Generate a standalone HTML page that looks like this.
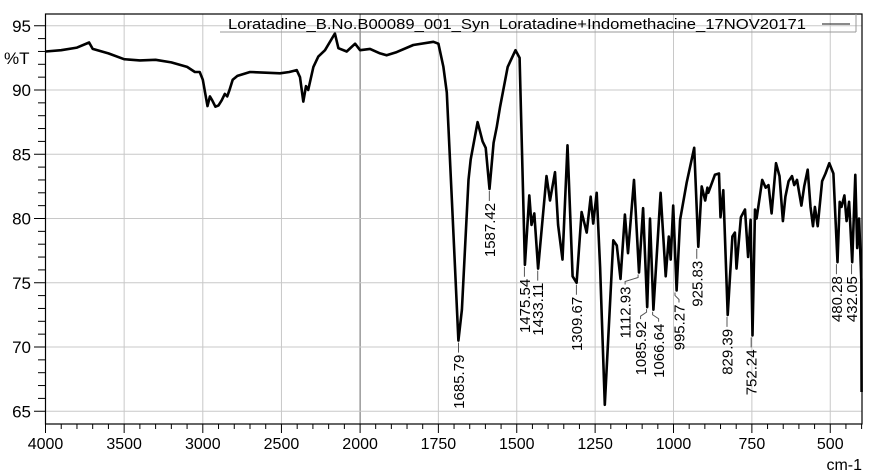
<!DOCTYPE html>
<html><head><meta charset="utf-8"><style>
html,body{margin:0;padding:0;background:#fff}
svg{display:block;font-family:"Liberation Sans",Arial,sans-serif}
</style></head><body>
<svg id="chart" width="872" height="473" viewBox="0 0 872 473" xmlns="http://www.w3.org/2000/svg">
<g id="grid"></g>
<g id="axes"></g>
<g id="series"></g>
<g id="labels"></g>
<g id="legend">
  <line x1="220" y1="32" x2="856" y2="32" stroke="#999" stroke-width="1"/>
  <line x1="856" y1="14" x2="856" y2="32" stroke="#999" stroke-width="1"/>
  <text x="228" y="29" font-size="15" textLength="578" lengthAdjust="spacingAndGlyphs">Loratadine_B.No.B00089_001_Syn&#160;&#160;Loratadine+Indomethacine_17NOV20171</text>
  <line x1="822" y1="24" x2="850" y2="24" stroke="#444" stroke-width="1.2"/>
</g>
</svg>
<script>
const wavenumbers = [4000,3900,3800,3723,3700,3600,3500,3400,3300,3200,3100,3050,3020,3000,2970,2955,2940,2920,2900,2880,2860,2845,2830,2810,2780,2700,2600,2509,2450,2403,2382,2361,2344,2330,2297,2266,2223,2160,2138,2085,2032,2000,1968,1936,1915,1883,1830,1766,1750,1734,1723,1707,1686,1675,1654,1647,1625,1609,1599,1587,1574,1564,1553,1529,1504,1491,1474,1460,1453,1444,1432,1405,1394,1378,1368,1354,1338,1322,1309,1293,1277,1264,1256,1245,1234,1219,1192,1181,1169,1155,1145,1126,1110,1097,1084,1075,1064,1041,1025,1015,1009,1001,990,979,958,934,921,910,899,892,889,868,855,850,841,827,812,804,799,785,772,762,754,748,740,735,717,706,697,687,673,662,651,643,633,622,615,606,592,583,572,563,555,549,540,526,515,503,490,477,470,464,455,448,440,430,420,414,408,401,400];
const transmittance = [93.0,93.1,93.3,93.7,93.2,92.85,92.4,92.3,92.35,92.15,91.8,91.4,91.4,90.8,88.75,89.5,89.2,88.7,88.8,89.2,89.7,89.5,90.0,90.8,91.1,91.4,91.35,91.3,91.4,91.55,91.0,89.1,90.3,90.0,91.8,92.6,93.1,94.4,93.25,93.0,93.6,93.1,93.2,92.85,92.7,92.95,93.5,93.75,93.6,91.8,89.8,81.4,70.5,72.9,83.0,84.6,87.5,86.0,85.5,82.3,85.9,87.1,88.7,91.8,93.1,92.5,76.4,81.8,79.5,80.4,76.1,83.3,81.4,83.6,79.5,76.8,85.7,75.5,75.0,80.5,78.9,81.7,79.6,82.0,76.2,65.5,78.3,77.9,75.3,80.3,77.3,83.0,75.8,80.8,73.1,80.0,72.9,82.0,75.5,78.6,76.8,81.0,74.4,79.9,82.8,85.5,77.8,82.5,81.4,82.4,82.0,83.4,83.5,80.1,82.2,72.5,78.6,78.9,76.1,80.1,80.7,77.0,79.9,70.9,80.7,80.0,83.0,82.4,82.6,80.4,84.3,83.3,79.8,81.7,82.9,83.3,82.6,83.0,81.0,82.5,83.8,80.9,79.4,80.9,79.4,82.9,83.5,84.3,83.5,76.6,81.3,80.9,81.8,79.8,81.3,76.6,83.4,77.7,80.0,75.2,66.5];
const peakNames = ["1685.79","1587.42","1475.54","1433.11","1309.67","1112.93","1085.92","1066.64","995.27","925.83","829.39","752.24","480.28","432.05"];
const peakWN = [1685.79,1587.42,1475.54,1433.11,1309.67,1112.93,1085.92,1066.64,995.27,925.83,829.39,752.24,480.28,432.05];
const peakT = [70.5,82.3,76.4,76.1,75.0,75.8,73.1,72.9,74.4,77.8,72.5,70.9,76.6,76.6];
const xTickLabels = [4000,3500,3000,2500,2000,1750,1500,1250,1000,750,500];
const yTickLabels = [65,70,75,80,85,90,95];
// label layout (horizontal offset of label from peak, px)
const labelShift = [0,0,0,0,0,-13,-6,6,4,0,0,0,0,0];

const NS="http://www.w3.org/2000/svg";
const L=45.5,R=862,T=14,B=424;
function xs(v){return v>=2000? L+(4000-v)*0.1573 : 360+(2000-v)*0.3135;}
function ys(t){return 90+(90-t)*12.85;}
function mk(tag,attrs,parent){const e=document.createElementNS(NS,tag);for(const k in attrs)e.setAttribute(k,attrs[k]);parent.appendChild(e);return e;}
const grid=document.getElementById('grid'),axes=document.getElementById('axes'),series=document.getElementById('series'),labels=document.getElementById('labels');

xTickLabels.forEach(v=>{
  const x=xs(v);
  if(v!==4000){const g=mk('line',{x1:x,y1:T,x2:x,y2:B,stroke:v===2000?'#666':'#c8c8c8','stroke-width':1},grid);
  
  }
  const t=mk('text',{x:x,y:449,'font-size':16,'text-anchor':'middle'},axes);
  t.textContent=v;
  
  
});
for(let v=4000;v>=400;v-=(v>2000?100:50)){
  const x=xs(v);const major=xTickLabels.includes(v);
  const tk=mk('line',{x1:x,y1:B,x2:x,y2:B+(major?9:5),stroke:'#000','stroke-width':1},axes);
  
  
}
yTickLabels.forEach(v=>{
  const y=ys(v);
  const g=mk('line',{x1:L,y1:y,x2:R,y2:y,stroke:'#c8c8c8','stroke-width':1},grid);
  
  
  const t=mk('text',{x:31,y:y+6,'font-size':17,'text-anchor':'end'},axes);
  t.textContent=v;
  
  
});
for(let v=65;v<=95;v++){
  const y=ys(v);const major=v%5===0;
  const tk=mk('line',{x1:major?34:38,y1:y,x2:L,y2:y,stroke:'#000','stroke-width':1},axes);
  
  
}
const fr=mk('rect',{x:L,y:T,width:R-L,height:B-T,fill:'none',stroke:'#000','stroke-width':1.2},axes);


const yt=mk('text',{x:4,y:64,'font-size':17},axes);yt.textContent='%T';


const xt=mk('text',{x:862,y:470,'font-size':16,'text-anchor':'end'},axes);xt.textContent='cm-1';



const pts=wavenumbers.map((w,i)=>xs(w).toFixed(1)+','+ys(transmittance[i]).toFixed(1)).join(' ');
const pl=mk('polyline',{points:pts,fill:'none',stroke:'#000','stroke-width':2.6,'stroke-linejoin':'round'},series);



peakNames.forEach((n,i)=>{
  const x=xs(peakWN[i]),y=ys(peakT[i]);
  const s=labelShift[i];
  const lx=x+s;
  const ld=mk('polyline',{points:x+','+(y+2)+' '+x+','+(y+5)+' '+lx+','+(y+9)+' '+lx+','+(y+12),fill:'none',stroke:'#555','stroke-width':1},labels);
  
  
  const t=mk('text',{transform:'translate('+(lx+5.5).toFixed(1)+','+(y+14).toFixed(1)+') rotate(-90)','font-size':15,'text-anchor':'end'},labels);
  t.textContent=n;
  
  
});
</script>
</body></html>
